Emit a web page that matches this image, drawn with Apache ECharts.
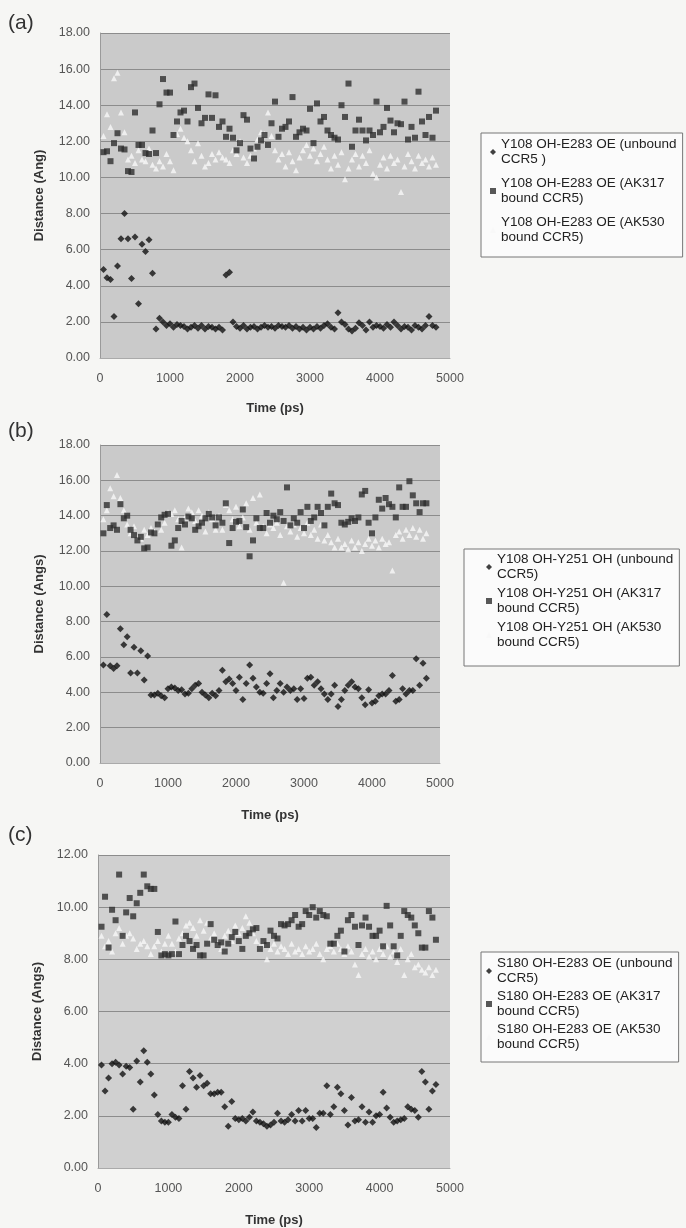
<!DOCTYPE html>
<html>
<head>
<meta charset="utf-8">
<script src="https://cdn.jsdelivr.net/npm/echarts@6/dist/echarts.min.js"></script>
<style>
    html, body { margin: 0; padding: 0; background: #f6f6f4; }
    #chart { width: 686px; height: 1228px; }
</style>
</head>
<body>
<div id="chart"></div>
<script>
// time stamps (ps), one sample every 50 ps
const times = [
    50, 100, 150, 200, 250, 300, 350, 400, 450, 500,
    550, 600, 650, 700, 750, 800, 850, 900, 950, 1000,
    1050, 1100, 1150, 1200, 1250, 1300, 1350, 1400, 1450, 1500,
    1550, 1600, 1650, 1700, 1750, 1800, 1850, 1900, 1950, 2000,
    2050, 2100, 2150, 2200, 2250, 2300, 2350, 2400, 2450, 2500,
    2550, 2600, 2650, 2700, 2750, 2800, 2850, 2900, 2950, 3000,
    3050, 3100, 3150, 3200, 3250, 3300, 3350, 3400, 3450, 3500,
    3550, 3600, 3650, 3700, 3750, 3800, 3850, 3900, 3950, 4000,
    4050, 4100, 4150, 4200, 4250, 4300, 4350, 4400, 4450, 4500,
    4550, 4600, 4650, 4700, 4750, 4800
];

// (a) Y108 OH - E283 OE
const aUnbound = [
    4.9, 4.45, 4.35, 2.3, 5.1, 6.6, 8.0, 6.6, 4.4, 6.7,
    3.0, 6.3, 5.9, 6.55, 4.7, 1.6, 2.2, 2.0, 1.8, 1.9,
    1.7, 1.85, 1.8, 1.75, 1.6, 1.7, 1.8, 1.65, 1.8, 1.6,
    1.75, 1.7, 1.6, 1.7, 1.55, 4.6, 4.75, 2.0, 1.75, 1.65,
    1.8, 1.6, 1.7, 1.75, 1.6, 1.7, 1.8, 1.7, 1.75, 1.65,
    1.8, 1.75, 1.7, 1.8, 1.65, 1.75, 1.6, 1.7, 1.55, 1.7,
    1.6, 1.75, 1.65, 1.8, 1.9, 1.7, 1.6, 2.5, 2.0, 1.85,
    1.6, 1.5, 1.65, 1.95, 1.8, 1.55, 2.0, 1.7, 1.8, 1.75,
    1.65, 1.85, 1.7, 2.0, 1.8, 1.6, 1.75, 1.7, 1.55, 1.8,
    1.7, 1.6, 1.8, 2.3, 1.8, 1.7
];
const aAK317 = [
    11.4, 11.45, 10.9, 11.9, 12.45, 11.6, 11.55, 10.35, 10.3, 13.6,
    11.8, 11.8, 11.35, 11.3, 12.6, 11.35, 14.05, 15.45, 14.7, 14.7,
    12.35, 13.1, 13.6, 13.7, 13.1, 15.0, 15.2, 13.85, 13.0, 13.3,
    14.6, 13.3, 14.55, 12.8, 13.1, 12.25, 12.7, 12.2, 11.5, 11.9,
    13.45, 13.2, 11.6, 11.05, 11.7, 12.05, 12.35, 11.8, 13.0, 14.2,
    12.25, 12.7, 12.8, 13.1, 14.45, 12.25, 12.5, 12.7, 12.6, 13.8,
    11.9, 14.1, 13.1, 13.35, 12.6, 12.35, 12.2, 12.1, 14.0, 13.35,
    15.2, 11.7, 12.6, 13.2, 12.6, 12.05, 12.6, 12.35, 14.2, 12.5,
    12.8, 13.85, 13.15, 12.5, 13.0, 12.95, 14.2, 12.1, 12.8, 12.2,
    14.75, 13.1, 12.35, 13.35, 12.2, 13.7
];
const aAK530 = [
    12.3, 13.5, 12.8, 15.5, 15.8, 13.6, 12.5, 11.0, 11.2, 10.8,
    11.5, 11.0, 10.9, 11.6, 10.7, 10.5, 10.9, 10.6, 11.3, 10.9,
    10.4, 12.4, 12.7, 12.2, 12.0, 11.5, 10.9, 11.9, 11.2, 10.6,
    10.8, 11.3, 11.0, 11.4, 11.1, 11.0, 10.8, 11.5, 11.3, 12.0,
    11.1, 10.8, 11.2, 11.6, 12.1, 12.5, 12.4, 13.6, 12.3, 11.5,
    11.0, 11.3, 10.6, 11.4, 10.9, 10.4, 11.1, 11.5, 11.8, 11.2,
    11.6, 10.9, 11.3, 11.7, 11.0, 10.5, 11.2, 10.7, 11.4, 9.9,
    10.5, 11.0, 11.3, 10.6, 11.2, 10.8, 11.5, 10.2, 10.0, 10.7,
    11.1, 10.5, 11.2, 10.8, 11.0, 9.2, 10.6, 11.3, 10.9, 10.5,
    11.2, 10.8, 11.0, 10.6, 11.1, 10.7
];

// (b) Y108 OH - Y251 OH
const bUnbound = [
    5.55, 8.4, 5.5, 5.35, 5.5, 7.6, 6.7, 7.15, 5.1, 6.55,
    5.1, 6.35, 4.7, 6.05, 3.85, 3.85, 3.95, 3.8, 3.7, 4.2,
    4.3, 4.25, 4.1, 4.15, 3.9, 3.95, 4.2, 4.4, 4.5, 4.0,
    3.85, 3.7, 3.95, 3.8, 4.1, 5.25, 4.6, 4.75, 4.5, 4.1,
    4.85, 3.6, 4.5, 5.55, 4.8, 4.3, 4.0, 3.95, 4.5, 5.05,
    3.7, 4.1, 4.5, 4.0, 4.3, 4.1, 4.2, 3.6, 4.2, 3.65,
    4.8, 4.85, 4.4, 4.6, 4.2, 3.9, 3.6, 3.9, 4.4, 3.2,
    3.6, 4.1, 4.4, 4.6, 4.3, 4.2, 3.7, 3.3, 4.15, 3.4,
    3.5, 3.8, 3.9, 3.9, 4.1, 4.95, 3.5, 3.6, 4.2, 3.9,
    4.1, 4.1, 5.9, 4.4, 5.65, 4.8
];
const bAK317 = [
    13.0, 14.6, 13.3, 13.45, 13.2, 14.65, 13.85, 14.0, 13.2, 12.9,
    12.6, 12.8, 12.15, 12.2, 13.05, 13.0, 13.5, 13.9, 14.05, 14.1,
    12.3, 12.6, 13.3, 13.7, 13.5, 13.95, 13.85, 13.2, 13.4, 13.6,
    13.85, 14.1, 13.9, 13.45, 13.9, 13.6, 14.7, 12.45, 13.3, 13.65,
    13.7, 14.35, 13.35, 11.7, 12.6, 13.85, 13.3, 13.3, 14.15, 13.6,
    14.0, 13.8, 14.2, 13.7, 15.6, 13.45, 13.85, 13.6, 14.2, 13.3,
    14.5, 13.7, 13.9, 14.5, 14.15, 13.45, 14.5, 15.25, 14.7, 14.6,
    13.6, 13.5, 13.65, 13.85, 13.7, 13.9, 15.2, 15.4, 13.6, 13.0,
    13.9, 14.9, 14.4, 15.0, 14.65, 14.5, 13.9, 15.6, 14.5, 14.5,
    15.95, 15.15, 14.7, 14.2, 14.7, 14.7
];
const bAK530 = [
    13.8, 14.3, 15.55, 15.1, 16.3, 15.0, 14.3, 13.5, 13.0, 13.4,
    12.8, 12.7, 13.2, 12.9, 13.3, 13.1, 13.5, 13.2, 13.6, 14.2,
    14.1, 14.3, 13.8, 12.2, 13.9, 14.4, 14.2, 13.7, 14.3, 14.0,
    13.1, 14.2, 13.8, 13.2, 14.0, 13.2, 14.6, 14.3, 13.8, 14.5,
    13.4, 13.9, 14.7, 13.2, 15.0, 13.6, 15.2, 13.4, 13.0, 13.5,
    13.3, 13.6, 12.9, 10.2, 13.4, 13.1, 13.5, 12.8, 13.3, 13.0,
    13.6, 12.9, 13.2, 12.7, 13.5, 12.6, 12.9, 12.5, 12.2, 12.7,
    12.2, 12.4, 12.1, 12.6, 12.2, 12.5, 12.0, 12.4, 12.7, 12.3,
    12.6, 12.2, 12.7, 12.4, 12.5, 10.9, 12.9, 13.1, 12.7, 13.2,
    12.9, 13.3, 12.8, 13.2, 12.7, 13.0
];

// (c) S180 OH - E283 OE
const cUnbound = [
    3.95, 2.95, 3.45, 4.0, 4.05, 3.95, 3.6, 3.9, 3.85, 2.25,
    4.1, 3.3, 4.5, 4.05, 3.6, 2.8, 2.05, 1.8, 1.75, 1.75,
    2.05, 1.95, 1.9, 3.15, 2.25, 3.7, 3.45, 3.1, 3.55, 3.15,
    3.25, 2.85, 2.85, 2.9, 2.9, 2.35, 1.6, 2.55, 1.9, 1.85,
    1.9, 1.8, 1.95, 2.15, 1.8, 1.75, 1.7, 1.6, 1.65, 1.75,
    2.1, 1.8, 1.75, 1.85, 2.05, 1.8, 2.2, 1.8, 2.2, 1.9,
    1.9, 1.55, 2.1, 2.1, 3.15, 2.05, 2.35, 3.1, 2.85, 2.2,
    1.65, 2.7, 1.8, 1.85, 2.35, 1.75, 2.15, 1.75, 2.0, 2.05,
    2.9, 2.3, 1.95, 1.75, 1.8, 1.85, 1.9, 2.35, 2.25, 2.2,
    1.95, 3.7, 3.3, 2.25, 2.95, 3.2
];
const cAK317 = [
    9.25, 10.4, 8.45, 9.9, 9.5, 11.25, 8.9, 9.8, 10.35, 9.65,
    10.15, 10.55, 11.25, 10.8, 10.7, 10.7, 9.05, 8.15, 8.2, 8.15,
    8.2, 9.45, 8.2, 8.55, 8.9, 8.7, 8.4, 8.55, 8.15, 8.15,
    8.6, 9.35, 8.75, 8.55, 8.65, 8.3, 8.6, 8.85, 9.05, 8.7,
    8.4, 8.9, 9.0, 9.15, 9.2, 8.4, 8.7, 8.55, 9.1, 8.9,
    8.8, 9.35, 9.3, 9.35, 9.5, 9.7, 9.25, 9.35, 9.85, 9.7,
    10.0, 9.6, 9.85, 9.7, 9.65, 8.6, 8.6, 8.9, 9.1, 8.3,
    9.5, 9.7, 9.25, 8.55, 9.3, 9.6, 9.25, 8.9, 8.9, 9.1,
    8.5, 10.05, 9.3, 8.5, 8.15, 8.9, 9.85, 9.7, 9.6, 9.3,
    9.0, 8.45, 8.45, 9.85, 9.6, 8.75
];
const cAK530 = [
    8.9, 8.5, 8.7, 8.3, 9.0, 9.2, 8.6, 8.9, 9.0, 8.8,
    8.4, 8.6, 8.7, 8.5, 8.2, 8.5, 8.7, 8.3, 8.6, 8.9,
    8.6, 8.3, 8.8, 9.0, 9.3, 9.4, 9.2, 8.9, 9.5, 9.1,
    9.4, 8.8, 9.0, 8.6, 8.4, 8.9, 9.1, 8.7, 9.3, 9.0,
    9.2, 9.65, 9.4, 9.0, 8.7, 8.5, 8.6, 8.0, 8.4, 8.6,
    8.3, 8.5, 8.4, 8.2, 8.6, 8.3, 8.4, 8.2, 8.5, 8.3,
    8.4, 8.6, 8.2, 8.0, 8.4, 8.5, 8.3, 8.6, 8.4, 8.2,
    8.5, 8.3, 7.8, 7.4, 8.2, 8.4, 8.1, 8.3, 8.0, 8.4,
    8.2, 8.5, 8.1, 8.3, 7.9, 8.4, 7.4, 8.0, 8.2, 7.7,
    7.8, 7.6, 7.5, 7.7, 7.4, 7.6
];

const legendA = ['Y108 OH-E283 OE (unbound\nCCR5 )', 'Y108 OH-E283 OE (AK317\nbound CCR5)', 'Y108 OH-E283 OE (AK530\nbound CCR5)'];
const legendB = ['Y108 OH-Y251 OH (unbound\nCCR5)', 'Y108 OH-Y251 OH (AK317\nbound CCR5)', 'Y108 OH-Y251 OH (AK530\nbound CCR5)'];
const legendC = ['S180 OH-E283 OE (unbound\nCCR5)', 'S180 OH-E283 OE (AK317\nbound CCR5)', 'S180 OH-E283 OE (AK530\nbound CCR5)'];

let chart = echarts.init(document.getElementById('chart'));

const font = 'Liberation Sans, Arial, sans-serif';
const pts = (vals) => times.map((t, i) => [t, vals[i]]);

function makeX(idx, nameGap) {
    return {
        gridIndex: idx,
        type: 'value',
        min: 0, max: 5000, interval: 1000,
        name: 'Time (ps)',
        nameLocation: 'middle',
        nameGap: nameGap,
        nameTextStyle: { fontFamily: font, fontWeight: 'bold', fontSize: 13, color: '#333' },
        axisLine: { show: true, lineStyle: { color: '#aaaaaa' } },
        axisTick: { show: false },
        splitLine: { show: false },
        axisLabel: {
            fontFamily: font, fontSize: 12.5, color: '#555', margin: 14,
            formatter: (v) => String(v)
        }
    };
}
function makeY(idx, max) {
    return {
        gridIndex: idx,
        type: 'value',
        min: 0, max: max, interval: 2,
        name: idx == 0 ? 'Distance (Ang)' : 'Distance (Angs)',
        nameLocation: 'middle',
        nameGap: 54,
        nameTextStyle: { fontFamily: font, fontWeight: 'bold', fontSize: 13, color: '#333' },
        axisLine: { show: true, lineStyle: { color: '#9a9a9a' } },
        axisTick: { show: false },
        splitLine: { show: true, lineStyle: { color: '#8c8c8c', width: 1 } },
        axisLabel: {
            fontFamily: font, fontSize: 12.5, color: '#555', margin: 10,
            formatter: (v) => v.toFixed(2)
        }
    };
}
function makeLegend(names, top, pad, gap) {
    return {
        data: names,
        orient: 'vertical',
        left: pad.left, top: top,
        padding: pad.p,
        itemGap: gap,
        itemWidth: 6, itemHeight: 6,
        borderColor: '#777', borderWidth: 1,
        backgroundColor: '#fbfbfb',
        selectedMode: false,
        textStyle: { fontFamily: font, fontSize: 13.5, lineHeight: 15, color: '#222' }
    };
}
function makeSeries(names, idx, s1, s2, s3) {
    return [
        {
            name: names[2], type: 'scatter', xAxisIndex: idx, yAxisIndex: idx,
            symbol: 'triangle', symbolSize: 6,
            itemStyle: { color: '#f7f7f7' },
            data: pts(s3)
        },
        {
            name: names[1], type: 'scatter', xAxisIndex: idx, yAxisIndex: idx,
            symbol: 'rect', symbolSize: 6,
            itemStyle: { color: '#2e2e2e' },
            data: pts(s2)
        },
        {
            name: names[0], type: 'scatter', xAxisIndex: idx, yAxisIndex: idx,
            symbol: 'diamond', symbolSize: 7,
            itemStyle: { color: '#111111' },
            data: pts(s1)
        }
    ];
}

const option = {
    animation: false,
    backgroundColor: '#f6f6f4',
    grid: [
        { left: 100, top: 33, width: 350, height: 325, show: true, backgroundColor: '#cacaca', borderWidth: 0 },
        { left: 100, top: 445, width: 340, height: 318, show: true, backgroundColor: '#cacaca', borderWidth: 0 },
        { left: 98, top: 855, width: 352, height: 318, show: true, backgroundColor: '#d0d0d0', borderWidth: 0 }
    ],
    xAxis: [makeX(0, 44), makeX(1, 46), makeX(2, 46)],
    yAxis: [makeY(0, 18), makeY(1, 18), makeY(2, 12)],
    legend: [
        makeLegend(legendA, 133, { left: 481, p: [4, 6, 12, 9] }, 9),
        makeLegend(legendB, 549, { left: 464, p: [3, 6, 16, 22] }, 4),
        makeLegend(legendC, 952, { left: 481, p: [4, 6, 10, 5] }, 3)
    ],
    graphic: [
        { type: 'text', left: 8, top: 13, style: { text: '(a)', font: '21px ' + font, fill: '#333' } },
        { type: 'text', left: 8, top: 421, style: { text: '(b)', font: '21px ' + font, fill: '#333' } },
        { type: 'text', left: 8, top: 825, style: { text: '(c)', font: '21px ' + font, fill: '#333' } }
    ],
    series: [].concat(
        makeSeries(legendA, 0, aUnbound, aAK317, aAK530),
        makeSeries(legendB, 1, bUnbound, bAK317, bAK530),
        makeSeries(legendC, 2, cUnbound, cAK317, cAK530)
    )
};
chart.setOption(option);
</script>
</body>
</html>
